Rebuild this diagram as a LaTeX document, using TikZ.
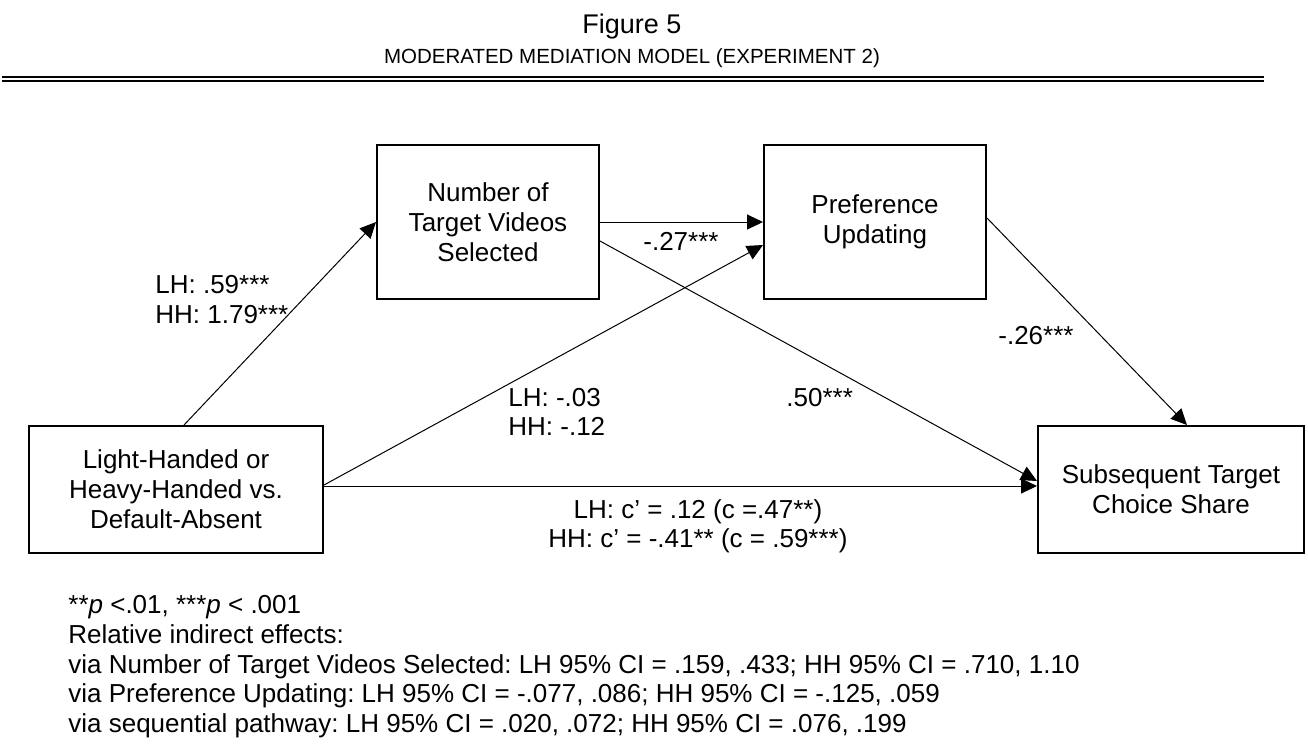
\documentclass[tikz,border=0pt]{standalone}
\usepackage{fontspec}
\setmainfont{Liberation Sans}
\usetikzlibrary{arrows.meta}
\frenchspacing
\begin{document}
\begin{tikzpicture}[x=0.5pt,y=-0.5pt,
  txt/.style={font=\fontsize{13}{15}\selectfont},
  box/.style={txt,draw,line width=1pt,inner sep=0pt,align=center},
  lbl/.style={txt,inner sep=0pt,anchor=base west},
  clbl/.style={txt,inner sep=0pt,anchor=base},
  link/.style={line width=0.5pt,-{Triangle[length=8pt,width=7.5pt]}},
  rule/.style={line width=1pt}]
\useasboundingbox (0,0) rectangle (1308,752);

% heading
\node[inner sep=0pt,anchor=base,font=\fontsize{13.5}{16}\selectfont] (title) at (632,33) {Figure 5};
\node[inner sep=0pt,anchor=base,font=\fontsize{10.25}{12}\selectfont] (subtitle) at (632,63) {MODERATED MEDIATION MODEL (EXPERIMENT 2)};
\draw[rule] (2,77) -- (1264,77);
\draw[rule] (2,80.5) -- (1264,80.5);

% variables
\node[box,minimum width=111pt,minimum height=77pt] (A) at (488,222) {Number of\\Target Videos\\Selected};
\node[box,minimum width=111pt,minimum height=77pt] (P) at (875,222) {Preference\\Updating};
\node[box,minimum width=147pt,minimum height=63.5pt] (X) at (176,489.5) {Light-Handed or\\Heavy-Handed vs.\\Default-Absent};
\node[box,minimum width=133pt,minimum height=63.5pt] (Y) at (1171,489.5) {Subsequent Target\\Choice Share};

% paths
\draw[link] ([xshift=4pt]X.north) -- (A.west);
\draw[link] (A.east) -- (P.west);
\draw[link] ([yshift=-9.5pt]A.east) -- ([yshift=4.25pt]Y.west);
\draw[link] ([yshift=2.25pt]X.east) -- ([yshift=-11.5pt]P.west);
\draw[link] ([yshift=1.75pt]X.east) -- ([yshift=1.75pt]Y.west);
\draw[link] ([yshift=2pt]P.east) -- ([xshift=8pt]Y.north);

% coefficients
\node[lbl] (a1) at (155,293) {LH: .59***};
\node[lbl] (a2) at (155,323) {HH: 1.79***};
\node[lbl] (d21) at (643,250) {-.27***};
\node[lbl] (b2) at (998,344) {-.26***};
\node[lbl] (a21) at (508,406) {LH: -.03};
\node[lbl] (a22) at (508,435) {HH: -.12};
\node[lbl] (b1) at (786,406) {.50***};
\node[clbl] (c1) at (698,518) {LH: c’ = .12 (c =.47**)};
\node[clbl] (c2) at (698,547) {HH: c’ = -.41** (c = .59***)};

% notes
\node[lbl] (n1) at (68,613) {**\textit{p} <.01, ***\textit{p} < .001};
\node[lbl] (n2) at (68,643) {Relative indirect effects:};
\node[lbl] (n3) at (68,673) {via Number of Target Videos Selected: LH 95\% CI = .159, .433; HH 95\% CI = .710, 1.10};
\node[lbl] (n4) at (68,702) {via Preference Updating: LH 95\% CI = -.077, .086; HH 95\% CI = -.125, .059};
\node[lbl] (n5) at (68,732) {via sequential pathway: LH 95\% CI = .020, .072; HH 95\% CI = .076, .199};
\end{tikzpicture}
\end{document}
